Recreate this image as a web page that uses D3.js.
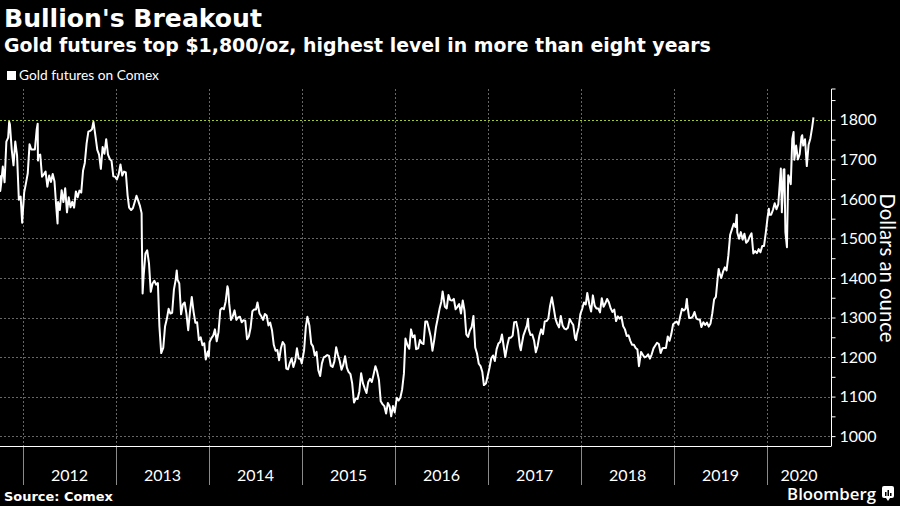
<!DOCTYPE html>
<html><head><meta charset="utf-8">
<script src="https://cdn.jsdelivr.net/npm/d3@7"></script>
<style>
html,body{margin:0;padding:0;background:#000;}
svg{display:block;}
</style></head>
<body>
<svg id="chart" width="900" height="506"></svg>
<script>
const titleText = "Bullion's Breakout";
const subtitleText = "Gold futures top $1,800/oz, highest level in more than eight years";
const legendText = "Gold futures on Comex";
const sourceText = "Source: Comex";
const yAxisTitle = "Dollars an ounce";
const yearLabels = ["2012","2013","2014","2015","2016","2017","2018","2019","2020"];
const yTickLabels = [1000,1100,1200,1300,1400,1500,1600,1700,1800];
const highlightLevel = 1800;

const dates = [
"2011-10-03","2011-10-04","2011-10-07","2011-10-14","2011-10-21","2011-10-28","2011-11-04","2011-11-08","2011-11-11","2011-11-18","2011-11-25","2011-12-02","2011-12-09","2011-12-16","2011-12-23","2011-12-29",
"2012-01-06","2012-01-13","2012-01-20","2012-01-27","2012-02-03","2012-02-10","2012-02-17","2012-02-24","2012-02-28","2012-02-29","2012-03-02","2012-03-09","2012-03-16","2012-03-23","2012-03-30","2012-04-06","2012-04-13","2012-04-20","2012-04-27","2012-05-04","2012-05-11","2012-05-16","2012-05-18","2012-05-25","2012-06-01","2012-06-08","2012-06-15","2012-06-22","2012-06-29","2012-07-06","2012-07-13","2012-07-20","2012-07-27","2012-08-03","2012-08-10","2012-08-17","2012-08-24","2012-08-31","2012-09-07","2012-09-14","2012-09-21","2012-09-28","2012-10-04","2012-10-12","2012-10-19","2012-10-26","2012-11-02","2012-11-09","2012-11-16","2012-11-23","2012-11-30","2012-12-07","2012-12-14","2012-12-21","2012-12-28",
"2013-01-04","2013-01-11","2013-01-18","2013-01-25","2013-02-01","2013-02-08","2013-02-15","2013-02-21","2013-03-01","2013-03-08","2013-03-15","2013-03-22","2013-03-28","2013-04-05","2013-04-11","2013-04-12","2013-04-15","2013-04-19","2013-04-26","2013-05-03","2013-05-10","2013-05-17","2013-05-24","2013-05-31","2013-06-07","2013-06-14","2013-06-20","2013-06-27","2013-07-05","2013-07-12","2013-07-19","2013-07-26","2013-08-02","2013-08-09","2013-08-16","2013-08-23","2013-08-27","2013-08-30","2013-09-06","2013-09-13","2013-09-20","2013-09-27","2013-10-04","2013-10-11","2013-10-18","2013-10-25","2013-11-01","2013-11-08","2013-11-15","2013-11-22","2013-11-29","2013-12-06","2013-12-13","2013-12-19","2013-12-27","2013-12-31",
"2014-01-03","2014-01-10","2014-01-17","2014-01-24","2014-01-31","2014-02-07","2014-02-14","2014-02-21","2014-02-28","2014-03-07","2014-03-14","2014-03-17","2014-03-21","2014-03-28","2014-04-04","2014-04-11","2014-04-18","2014-04-25","2014-05-02","2014-05-09","2014-05-16","2014-05-23","2014-05-30","2014-06-06","2014-06-13","2014-06-20","2014-06-27","2014-07-04","2014-07-10","2014-07-18","2014-07-25","2014-08-01","2014-08-08","2014-08-15","2014-08-22","2014-08-29","2014-09-05","2014-09-12","2014-09-19","2014-09-26","2014-10-03","2014-10-10","2014-10-17","2014-10-24","2014-10-31","2014-11-07","2014-11-14","2014-11-21","2014-11-28","2014-12-05","2014-12-12","2014-12-19","2014-12-26","2014-12-31",
"2015-01-09","2015-01-16","2015-01-22","2015-01-30","2015-02-06","2015-02-13","2015-02-20","2015-02-27","2015-03-06","2015-03-13","2015-03-20","2015-03-27","2015-04-02","2015-04-10","2015-04-17","2015-04-24","2015-05-01","2015-05-08","2015-05-15","2015-05-22","2015-05-29","2015-06-05","2015-06-12","2015-06-19","2015-06-26","2015-07-02","2015-07-10","2015-07-17","2015-07-24","2015-07-31","2015-08-07","2015-08-14","2015-08-21","2015-08-28","2015-09-04","2015-09-11","2015-09-18","2015-09-25","2015-10-02","2015-10-09","2015-10-16","2015-10-23","2015-10-30","2015-11-06","2015-11-13","2015-11-20","2015-11-27","2015-12-04","2015-12-11","2015-12-17","2015-12-24","2015-12-31",
"2016-01-08","2016-01-15","2016-01-22","2016-01-29","2016-02-05","2016-02-11","2016-02-19","2016-02-26","2016-03-04","2016-03-11","2016-03-18","2016-03-24","2016-04-01","2016-04-08","2016-04-15","2016-04-22","2016-04-29","2016-05-06","2016-05-13","2016-05-20","2016-05-27","2016-06-03","2016-06-10","2016-06-17","2016-06-24","2016-07-01","2016-07-06","2016-07-08","2016-07-15","2016-07-22","2016-07-29","2016-08-05","2016-08-12","2016-08-19","2016-08-26","2016-09-02","2016-09-09","2016-09-16","2016-09-23","2016-09-30","2016-10-07","2016-10-14","2016-10-21","2016-10-28","2016-11-04","2016-11-11","2016-11-18","2016-11-25","2016-12-02","2016-12-09","2016-12-15","2016-12-23","2016-12-30",
"2017-01-06","2017-01-13","2017-01-20","2017-01-27","2017-02-03","2017-02-10","2017-02-17","2017-02-24","2017-03-03","2017-03-09","2017-03-17","2017-03-24","2017-03-31","2017-04-07","2017-04-13","2017-04-21","2017-04-28","2017-05-05","2017-05-09","2017-05-12","2017-05-19","2017-05-26","2017-06-02","2017-06-06","2017-06-09","2017-06-16","2017-06-23","2017-06-30","2017-07-07","2017-07-14","2017-07-21","2017-07-28","2017-08-04","2017-08-11","2017-08-18","2017-08-25","2017-09-01","2017-09-08","2017-09-15","2017-09-22","2017-09-29","2017-10-06","2017-10-13","2017-10-20","2017-10-27","2017-11-03","2017-11-10","2017-11-17","2017-11-24","2017-12-01","2017-12-08","2017-12-12","2017-12-15","2017-12-22","2017-12-29",
"2018-01-05","2018-01-12","2018-01-19","2018-01-25","2018-02-02","2018-02-09","2018-02-16","2018-02-23","2018-03-02","2018-03-09","2018-03-16","2018-03-23","2018-03-30","2018-04-06","2018-04-13","2018-04-20","2018-04-27","2018-05-04","2018-05-11","2018-05-18","2018-05-25","2018-06-01","2018-06-08","2018-06-15","2018-06-22","2018-06-29","2018-07-06","2018-07-13","2018-07-20","2018-07-27","2018-08-03","2018-08-10","2018-08-16","2018-08-24","2018-08-31","2018-09-07","2018-09-14","2018-09-21","2018-09-28","2018-10-05","2018-10-12","2018-10-19","2018-10-26","2018-11-02","2018-11-09","2018-11-16","2018-11-23","2018-11-30","2018-12-07","2018-12-14","2018-12-21","2018-12-28",
"2019-01-04","2019-01-11","2019-01-18","2019-01-25","2019-02-01","2019-02-08","2019-02-15","2019-02-20","2019-02-22","2019-03-01","2019-03-08","2019-03-15","2019-03-22","2019-03-29","2019-04-05","2019-04-12","2019-04-18","2019-04-26","2019-05-03","2019-05-10","2019-05-17","2019-05-24","2019-05-31","2019-06-07","2019-06-14","2019-06-21","2019-06-25","2019-06-28","2019-07-05","2019-07-12","2019-07-19","2019-07-26","2019-08-02","2019-08-09","2019-08-16","2019-08-23","2019-08-30","2019-09-04","2019-09-06","2019-09-13","2019-09-20","2019-09-27","2019-10-04","2019-10-11","2019-10-18","2019-10-25","2019-11-01","2019-11-08","2019-11-15","2019-11-22","2019-11-29","2019-12-06","2019-12-13","2019-12-20","2019-12-27",
"2020-01-03","2020-01-08","2020-01-10","2020-01-17","2020-01-24","2020-01-31","2020-02-07","2020-02-14","2020-02-21","2020-02-24","2020-02-28","2020-03-06","2020-03-09","2020-03-13","2020-03-19","2020-03-24","2020-03-27","2020-04-03","2020-04-09","2020-04-14","2020-04-17","2020-04-24","2020-05-01","2020-05-08","2020-05-15","2020-05-18","2020-05-22","2020-05-29","2020-06-05","2020-06-12","2020-06-19","2020-06-26","2020-06-30","2020-07-01"
];
const prices = [
1660,1620,1636,1682,1642,1745,1755,1795,1788,1725,1685,1745,1710,1598,1606,1540,
1617,1640,1665,1738,1725,1725,1725,1775,1790,1697,1710,1712,1656,1662,1669,1631,1659,1643,1663,1644,1579,1538,1592,1572,1622,1592,1627,1566,1604,1579,1593,1578,1619,1604,1621,1616,1671,1691,1740,1770,1772,1776,1795,1758,1724,1712,1676,1731,1714,1751,1712,1701,1696,1657,1656,
1649,1662,1687,1659,1669,1667,1609,1578,1572,1577,1592,1608,1597,1581,1564,1501,1361,1405,1462,1470,1437,1365,1386,1393,1383,1387,1277,1210,1223,1277,1296,1322,1310,1312,1371,1396,1419,1396,1386,1308,1333,1338,1310,1268,1315,1352,1315,1287,1288,1243,1250,1230,1235,1194,1214,1202,
1238,1248,1254,1270,1240,1263,1319,1324,1321,1340,1379,1372,1335,1294,1303,1318,1294,1300,1302,1288,1293,1292,1245,1252,1274,1316,1320,1320,1338,1310,1303,1294,1309,1305,1280,1287,1268,1231,1216,1218,1192,1222,1238,1231,1171,1169,1185,1197,1175,1190,1222,1196,1195,1184,
1217,1277,1302,1279,1234,1227,1204,1213,1167,1152,1184,1199,1201,1205,1203,1178,1175,1189,1225,1205,1190,1168,1180,1202,1173,1163,1157,1133,1085,1095,1094,1113,1159,1134,1121,1109,1137,1145,1137,1156,1177,1163,1142,1088,1081,1076,1057,1084,1075,1050,1076,1060,
1097,1090,1097,1118,1158,1247,1230,1221,1270,1250,1255,1220,1222,1243,1235,1233,1290,1290,1272,1252,1216,1243,1276,1298,1322,1340,1366,1358,1327,1323,1357,1344,1343,1347,1321,1327,1334,1310,1343,1317,1257,1251,1267,1276,1304,1224,1209,1183,1177,1162,1129,1133,1152,
1173,1197,1204,1190,1220,1234,1238,1257,1226,1200,1230,1249,1249,1254,1288,1289,1268,1228,1217,1229,1254,1267,1280,1297,1271,1256,1257,1242,1212,1228,1254,1270,1258,1290,1291,1297,1330,1351,1325,1297,1284,1275,1304,1280,1272,1270,1274,1296,1288,1281,1248,1243,1257,1275,1309,
1322,1338,1333,1362,1333,1315,1356,1330,1323,1323,1313,1349,1327,1336,1347,1338,1323,1314,1320,1291,1303,1297,1302,1278,1270,1253,1255,1241,1231,1231,1223,1219,1177,1213,1206,1199,1201,1207,1196,1207,1222,1229,1236,1233,1210,1222,1223,1223,1252,1241,1258,1283,
1287,1290,1282,1303,1322,1318,1322,1347,1331,1299,1299,1302,1314,1298,1295,1295,1276,1288,1281,1287,1277,1285,1311,1346,1352,1400,1423,1413,1400,1416,1427,1419,1457,1509,1523,1537,1529,1560,1515,1499,1516,1497,1512,1489,1494,1505,1513,1462,1468,1463,1473,1465,1481,1481,1515,
1553,1575,1560,1560,1572,1589,1574,1586,1649,1677,1566,1674,1675,1516,1478,1660,1655,1637,1752,1769,1699,1735,1700,1713,1757,1761,1735,1751,1683,1737,1753,1781,1800,1806
];

const svg = d3.select("#chart");
const W = 900, H = 506;
const plotLeft = 0, plotRight = 831, plotTop = 89, plotBottom = 446;

svg.append("rect").attr("width", W).attr("height", H).attr("fill", "#000");

const parse = d3.timeParse("%Y-%m-%d");
const data = dates.map((d, i) => ({date: parse(d), value: prices[i]}));

const x = d3.scaleTime()
  .domain([parse("2011-10-03"), parse("2020-09-08")])
  .range([plotLeft, plotRight]);
const y = d3.scaleLinear()
  .domain([975, 1878])
  .range([plotBottom, plotTop]);

const yearStarts = yearLabels.map(s => parse(s + "-01-01"));

// horizontal grid
svg.append("g").selectAll("line").data(yTickLabels).join("line")
  .attr("x1", plotLeft).attr("x2", plotRight)
  .attr("y1", d => Math.round(y(d)) + 0.5).attr("y2", d => Math.round(y(d)) + 0.5)
  .attr("stroke", d => d === highlightLevel ? "#a3c83a" : "#666")
  .attr("stroke-width", 1)
  .attr("stroke-dasharray", "2,2");

// vertical grid
svg.append("g").selectAll("line").data(yearStarts).join("line")
  .attr("x1", d => Math.round(x(d)) + 0.5).attr("x2", d => Math.round(x(d)) + 0.5)
  .attr("y1", plotTop).attr("y2", plotBottom)
  .attr("stroke", "#666").attr("stroke-width", 1)
  .attr("stroke-dasharray", "2,2");

// line
const line = d3.line().x(d => x(d.date)).y(d => y(d.value));
svg.append("path").datum(data)
  .attr("d", line)
  .attr("fill", "none")
  .attr("stroke", "#fff")
  .attr("stroke-width", 2)
  .attr("stroke-linejoin", "round");

// y axis (right)
const yTicks = d3.range(1000, 1851, 50);
const yAxis = d3.axisRight(y)
  .tickValues(yTicks)
  .tickSize(4)
  .tickPadding(4)
  .tickFormat(d => d % 100 === 0 ? String(d) : "");
const gy = svg.append("g").attr("transform", `translate(${plotRight + 0.5},0)`).call(yAxis);
gy.select(".domain").attr("stroke", "#fff").attr("d", `M4,${plotTop}H0V${plotBottom}`);
gy.selectAll(".tick line").attr("stroke", "#fff");
gy.selectAll(".tick text").attr("fill", "#fff")
  .style("font-family", "Lato, 'Open Sans', sans-serif").style("font-size", "16px");

// bottom axis line
svg.append("line")
  .attr("x1", plotLeft).attr("x2", plotRight + 0.5)
  .attr("y1", plotBottom + 0.5).attr("y2", plotBottom + 0.5)
  .attr("stroke", "#fff").attr("stroke-width", 1);

// year separators below axis
svg.append("g").selectAll("line").data(yearStarts).join("line")
  .attr("x1", d => Math.round(x(d)) + 0.5).attr("x2", d => Math.round(x(d)) + 0.5)
  .attr("y1", plotBottom + 1).attr("y2", 485)
  .attr("stroke", "#8a8a8a").attr("stroke-width", 1);

// year labels centered within year span
const bounds = yearStarts.map(d => x(d)).concat([plotRight]);
svg.append("g").selectAll("text").data(yearLabels).join("text")
  .attr("x", (d, i) => (bounds[i] + Math.min(bounds[i + 1], plotRight)) / 2)
  .attr("y", 481)
  .attr("text-anchor", "middle")
  .attr("fill", "#fff")
  .style("font-family", "Lato, 'Open Sans', sans-serif").style("font-size", "16px")
  .text(d => d);

function fitText(sel, target) {
  const w = sel.node().getComputedTextLength();
  const fs = parseFloat(sel.style("font-size"));
  sel.style("font-size", (fs * target / w).toFixed(2) + "px");
}

// y axis title
const yt = svg.append("text")
  .attr("transform", "translate(880,268) rotate(90)")
  .attr("text-anchor", "middle")
  .attr("fill", "#fff")
  .style("font-family", "Lato, 'Open Sans', sans-serif").style("font-size", "19px")
  .text(yAxisTitle);
fitText(yt, 149);

// title
const t1 = svg.append("text").attr("x", 4).attr("y", 27).attr("fill", "#fff")
  .style("font-family", "'DejaVu Sans', Verdana, sans-serif").style("font-weight", "bold").style("font-size", "25px")
  .text(titleText);
fitText(t1, 258);
const t2 = svg.append("text").attr("x", 4).attr("y", 52).attr("fill", "#fff")
  .style("font-family", "'DejaVu Sans', Verdana, sans-serif").style("font-weight", "bold").style("font-size", "18px")
  .text(subtitleText);
fitText(t2, 707);

// legend
svg.append("rect").attr("x", 7).attr("y", 71).attr("width", 9).attr("height", 9).attr("fill", "#fff");
const lg = svg.append("text").attr("x", 19).attr("y", 80).attr("fill", "#fff")
  .style("font-family", "Lato, 'Open Sans', sans-serif").style("font-size", "13px")
  .text(legendText);
fitText(lg, 140);

// source
const src = svg.append("text").attr("x", 4).attr("y", 501).attr("fill", "#fff")
  .style("font-family", "'DejaVu Sans', Verdana, sans-serif").style("font-weight", "bold").style("font-size", "13px")
  .text(sourceText);
fitText(src, 109);

// Bloomberg
const bb = svg.append("text").attr("x", 876).attr("y", 500).attr("text-anchor", "end").attr("fill", "#fff")
  .style("font-family", "'Open Sans', Lato, sans-serif").style("font-weight", "600").style("font-size", "18px")
  .text("Bloomberg");
fitText(bb, 89);
const icon = svg.append("g").attr("transform", "translate(882,486)");
icon.append("rect").attr("width", 12).attr("height", 12).attr("rx", 2).attr("fill", "#fff");
icon.append("path").attr("d", "M4,12 L6,15 L8,12 Z").attr("fill", "#fff");
[[3,6,1],[5.5,4,1],[8,7,1]].forEach(([bx, by, bw]) => {
  icon.append("rect").attr("x", bx).attr("y", by).attr("width", bw + 0.5).attr("height", 10 - by).attr("fill", "#000");
});
</script>
</body></html>
